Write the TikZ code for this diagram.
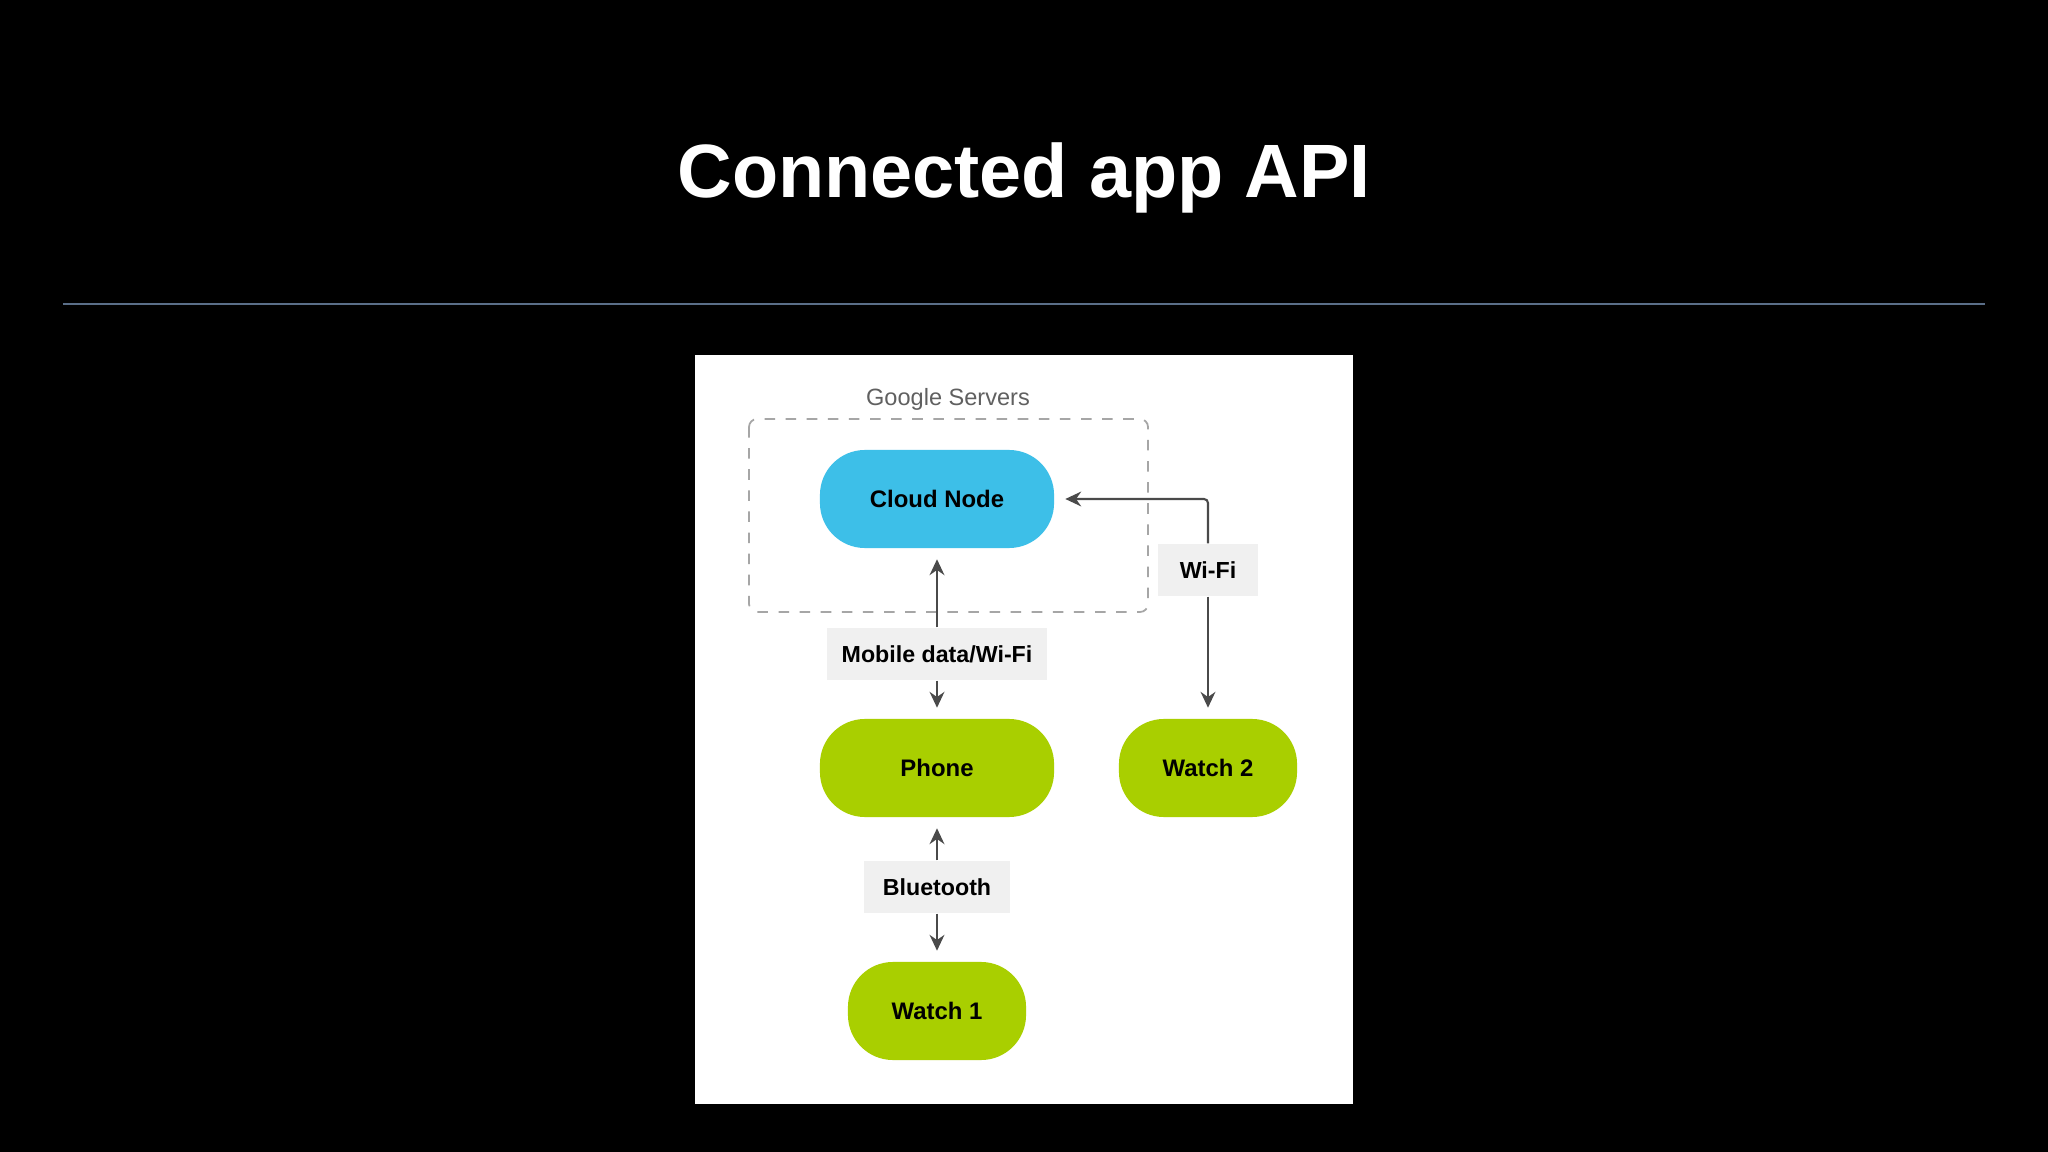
\documentclass[tikz,border=0pt]{standalone}
\usepackage{fontspec}
\setmainfont{Liberation Sans}
\usetikzlibrary{arrows.meta}
\definecolor{cloudc}{HTML}{3DBFE8}
\definecolor{devc}{HTML}{A9CF00}
\definecolor{linec}{HTML}{4A4A4A}
\definecolor{rulec}{HTML}{5A6E88}
\begin{document}
\begin{tikzpicture}[x=0.01cm,y=-0.01cm,
  dev/.style={draw=none,rounded corners=0.45cm,minimum height=0.98cm,inner sep=0pt,
    font=\fontsize{6.8pt}{8pt}\selectfont\bfseries},
  lbl/.style={fill=gray!12,inner sep=0pt,minimum height=0.52cm,
    font=\fontsize{6.6pt}{8pt}\selectfont\bfseries},
  conn/.style={draw=linec,line width=0.6pt,-{Stealth[length=4.5pt,width=4.2pt]}}]
  \useasboundingbox[fill=black] (0,0) rectangle (2048,1152);
  % title and rule
  \node[text=white,font=\fontsize{21.5pt}{24pt}\selectfont\bfseries] (title) at (1024,178) {Connected app API};
  \draw[rulec,line width=0.6pt] (63,304) -- (1985,304);
  % panel
  \fill[white] (695,355) rectangle (1353,1104);
  \node[text=gray!75!black,font=\fontsize{6.7pt}{8pt}\selectfont] (gs) at (948,399) {Google Servers};
  \draw[gray!70,dashed,line width=0.5pt,rounded corners=0.08cm] (749,419) rectangle (1148,612);
  % nodes
  \node[dev,fill=cloudc,minimum width=2.34cm] (cloud) at (937,499) {Cloud Node};
  \node[dev,fill=devc,minimum width=2.34cm] (phone) at (937,768) {Phone};
  \node[dev,fill=devc,minimum width=1.78cm] (w2) at (1208,768) {Watch 2};
  \node[dev,fill=devc,minimum width=1.78cm] (w1) at (937,1011) {Watch 1};
  % labels
  \node[lbl,minimum width=2.19cm] (mob) at (937,654) {Mobile data/Wi-Fi};
  \node[lbl,minimum width=1.45cm] (bt) at (937,887) {Bluetooth};
  \node[lbl,minimum width=0.99cm] (wifi) at (1208,570) {Wi-Fi};
  \coordinate (corner) at (1208,499);
  % connectors
  \draw[conn,shorten >=3pt] (mob.north) -- (cloud.south);
  \draw[conn,shorten >=3pt] (mob.south) -- (phone.north);
  \draw[conn,shorten >=3pt] (bt.north) -- (phone.south);
  \draw[conn,shorten >=3pt] (bt.south) -- (w1.north);
  \draw[conn,shorten >=3pt,rounded corners=0.04cm] (wifi.north) -- (corner) -- (cloud.east);
  \draw[conn,shorten >=3pt] (wifi.south) -- (w2.north);
\end{tikzpicture}
\end{document}
